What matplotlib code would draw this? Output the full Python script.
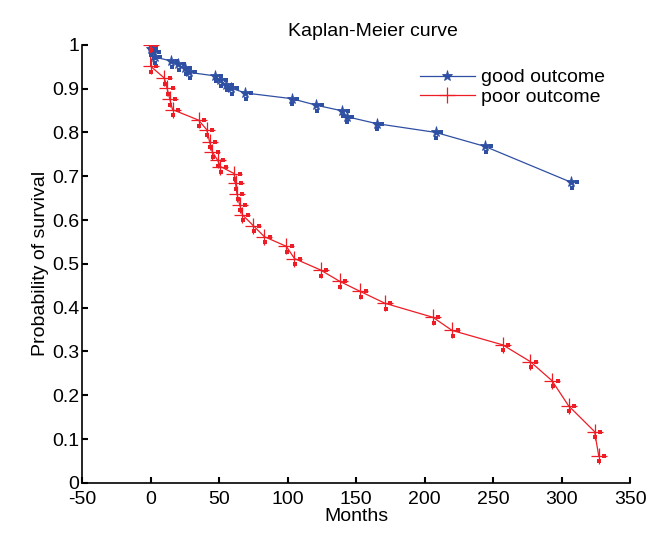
import matplotlib
matplotlib.use('Agg')
import matplotlib.pyplot as plt
import matplotlib.transforms as mtransforms
import numpy as np

plt.rcParams['font.family'] = ['Liberation Sans', 'DejaVu Sans']
plt.rcParams['axes.unicode_minus'] = False

# good outcome group
good_months = [0, 0, 2, 3, 15, 20, 25, 28, 47, 51, 55, 59, 69, 103, 121, 140, 143, 165, 208, 244, 307]
good_surv = [1.0, 0.99, 0.983, 0.972, 0.963, 0.955, 0.946, 0.937, 0.929, 0.919, 0.909, 0.901,
             0.890, 0.877, 0.862, 0.849, 0.836, 0.820, 0.800, 0.768, 0.686]

# poor outcome group
poor_months = [0, 0, 10, 12, 14, 16, 35, 41, 43, 45, 49, 51, 61, 62, 63, 65, 67, 75, 83, 99,
               105, 124, 138, 153, 171, 206, 220, 257, 277, 293, 305, 324, 327]
poor_surv = [1.0, 0.951, 0.924, 0.901, 0.876, 0.852, 0.828, 0.806, 0.779, 0.756, 0.736, 0.722,
             0.706, 0.684, 0.660, 0.635, 0.612, 0.587, 0.562, 0.540, 0.512, 0.486, 0.460, 0.437,
             0.410, 0.378, 0.348, 0.315, 0.277, 0.233, 0.176, 0.117, 0.062]

xticks = [-50, 0, 50, 100, 150, 200, 250, 300, 350]
yticks = [0, 0.1, 0.2, 0.3, 0.4, 0.5, 0.6, 0.7, 0.8, 0.9, 1]
ytick_labels = ['0', '0.1', '0.2', '0.3', '0.4', '0.5', '0.6', '0.7', '0.8', '0.9', '1']

blue = '#2f4fa3'
red = '#ee1c25'

fig = plt.figure(figsize=(6.62, 5.33), dpi=100)
ax = fig.add_axes([0.124, 0.094, 0.828, 0.822])

ax.plot(good_months, good_surv, color=blue, lw=0.9, marker='*', ms=8, mew=0.6,
        label='good outcome')
ax.plot(poor_months, poor_surv, color=red, lw=0.9, marker='+', ms=11, mew=0.9,
        label='poor outcome')

# small censor squares beside each mark
tr_r = mtransforms.offset_copy(ax.transData, fig=fig, x=4, y=0, units='points')
tr_d = mtransforms.offset_copy(ax.transData, fig=fig, x=0.5, y=-4, units='points')
for tr in (tr_r, tr_d):
    ax.plot(good_months, good_surv, ls='none', marker='s', ms=2.6, mew=0, color=blue, transform=tr)
    ax.plot(poor_months, poor_surv, ls='none', marker='s', ms=2.6, mew=0, color=red, transform=tr)

ax.set_xlim(-50, 350)
ax.set_ylim(0, 1)
ax.set_xticks(xticks)
ax.set_yticks(yticks)
ax.set_yticklabels(ytick_labels)
ax.tick_params(direction='in', length=4, width=1.5, labelsize=14)
ax.tick_params(axis='x', pad=6)
ax.tick_params(axis='y', pad=2)
ax.spines['top'].set_visible(False)
ax.spines['right'].set_visible(False)
ax.spines['left'].set_linewidth(1.2)
ax.spines['bottom'].set_linewidth(1.2)

ax.set_title('Kaplan-Meier curve', fontsize=14, x=0.53, pad=6)
ax.set_xlabel('Months', fontsize=14, labelpad=0)
ax.set_ylabel('Probability of survival', fontsize=14, labelpad=2)

ax.legend(loc='upper right', bbox_to_anchor=(0.985, 0.985), frameon=False, fontsize=14,
          handlelength=2.8, handletextpad=0.3, labelspacing=0.1)

fig.savefig('out.png', dpi=100)
